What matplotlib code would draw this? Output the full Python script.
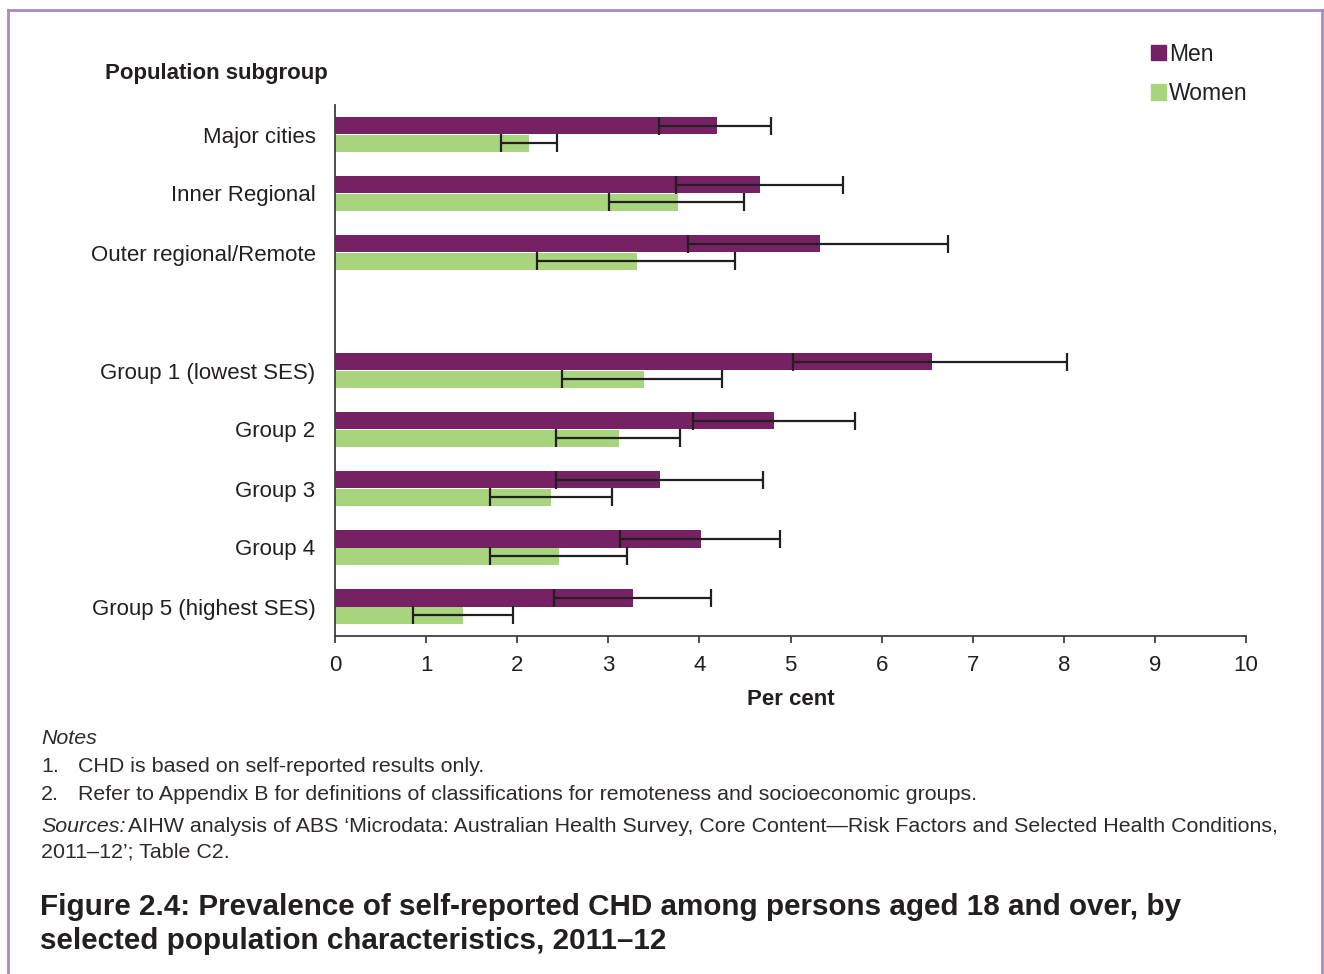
import numpy as np
import matplotlib
matplotlib.use("Agg")
import matplotlib.pyplot as plt
from matplotlib.patches import Patch
from matplotlib.lines import Line2D

# valeurs (per cent, 2011-12)
categories = ["Major cities", "Inner Regional", "Outer regional/Remote",
              "Group 1 (lowest SES)", "Group 2", "Group 3", "Group 4",
              "Group 5 (highest SES)"]
men = np.array([4.19, 4.66, 5.32, 6.55, 4.82, 3.57, 4.02, 3.27])
men_lo = np.array([3.56, 3.74, 3.88, 5.03, 3.93, 2.43, 3.13, 2.40])
men_hi = np.array([4.79, 5.58, 6.73, 8.04, 5.71, 4.70, 4.89, 4.13])
women = np.array([2.13, 3.76, 3.31, 3.39, 3.12, 2.37, 2.46, 1.41])
women_lo = np.array([1.82, 3.01, 2.22, 2.49, 2.43, 1.70, 1.70, 0.86])
women_hi = np.array([2.44, 4.49, 4.39, 4.25, 3.79, 3.04, 3.21, 1.95])
xticks = list(range(0, 11))

men_col = "#762163"
women_col = "#a7d47d"
txt = "#231f20"

plt.rcParams["font.family"] = ["Liberation Sans", "DejaVu Sans"]

W, H = 1324, 974
fig = plt.figure(figsize=(W / 100, H / 100), dpi=100)
ax = fig.add_axes([335 / W, 1 - 636 / H, (1246 - 335) / W, (636 - 105) / H])

# gap after the remoteness groups
idx = np.arange(len(categories))
pos = idx + (idx >= 3)
h = 0.3
ekw = dict(ecolor=txt, elinewidth=1.6, capsize=6.5, capthick=1.6)
ax.barh(pos - h / 2, men, height=h, color=men_col,
        xerr=[men - men_lo, men_hi - men], error_kw=ekw)
ax.barh(pos + h / 2, women, height=h, color=women_col,
        xerr=[women - women_lo, women_hi - women], error_kw=ekw)

ax.set_ylim(pos.max() + 0.5, -0.5)
ax.set_xlim(0, 10)
ax.set_xticks(xticks)
ax.set_yticks(pos)
ax.set_yticklabels(categories)
ax.tick_params(axis="y", length=0, pad=14, labelsize=16, labelcolor=txt)
ax.tick_params(axis="x", length=5, width=1.3, color="#404040", pad=8.5,
               labelsize=16, labelcolor=txt)
for s in ["top", "right"]:
    ax.spines[s].set_visible(False)
for s in ["left", "bottom"]:
    ax.spines[s].set_color("#404040")
    ax.spines[s].set_linewidth(1.3)
ax.set_xlabel("Per cent", fontsize=16, fontweight="bold", color=txt, labelpad=9.5)

fig.text(105 / W, 1 - 73 / H, "Population subgroup", fontsize=16,
         fontweight="bold", color=txt, va="center", ha="left")

handles = [Patch(color=men_col, label="Men"), Patch(color=women_col, label="Women")]
leg = fig.legend(handles=handles, loc="upper left", bbox_to_anchor=(1130 / W, 1 - 22 / H),
                 frameon=False, fontsize=16.5, handlelength=0.65, handleheight=0.65,
                 handletextpad=0.15, labelspacing=0.72)
for t in leg.get_texts():
    t.set_color(txt)

# cadre violet
bc = "#a48cc8"
tr = fig.transFigure
fig.add_artist(Line2D([8 / W, 8 / W], [0, 1 - 10 / H], color=bc, lw=2, transform=tr))
fig.add_artist(Line2D([8 / W, 1322 / W], [1 - 10 / H, 1 - 10 / H], color=bc, lw=2, transform=tr))
fig.add_artist(Line2D([1322 / W, 1322 / W], [0, 1 - 10 / H], color=bc, lw=2, transform=tr))

# notes
nc = "#2e2a2b"
ns = 15.4
fig.text(41 / W, 1 - 738 / H, "Notes", fontsize=ns, style="italic", color=nc, va="center")
fig.text(41 / W, 1 - 766 / H, "1.", fontsize=ns, color=nc, va="center")
fig.text(78 / W, 1 - 766 / H, "CHD is based on self-reported results only.", fontsize=ns,
         color=nc, va="center")
fig.text(41 / W, 1 - 794 / H, "2.", fontsize=ns, color=nc, va="center")
fig.text(78 / W, 1 - 794 / H,
         "Refer to Appendix B for definitions of classifications for remoteness and socioeconomic groups.",
         fontsize=ns, color=nc, va="center")
src = fig.text(41 / W, 1 - 827 / H, "Sources:", fontsize=ns, style="italic",
               color=nc, va="center")
r = fig.canvas.get_renderer()
bb = src.get_window_extent(renderer=r)
fig.text(bb.x1 / W + 3 / W, 1 - 827 / H,
         "AIHW analysis of ABS \u2018Microdata: Australian Health Survey, Core Content\u2014Risk Factors and Selected Health Conditions,",
         fontsize=ns, color=nc, va="center")
fig.text(41 / W, 1 - 852 / H, "2011\u201312\u2019; Table C2.", fontsize=ns,
         color=nc, va="center")

fig.text(40 / W, 1 - 907 / H,
         "Figure 2.4: Prevalence of self-reported CHD among persons aged 18 and over, by",
         fontsize=21.3, fontweight="bold", color=txt, va="center")
fig.text(40 / W, 1 - 941 / H, "selected population characteristics, 2011\u201312",
         fontsize=21.3, fontweight="bold", color=txt, va="center")

fig.savefig("out.png", dpi=100)
